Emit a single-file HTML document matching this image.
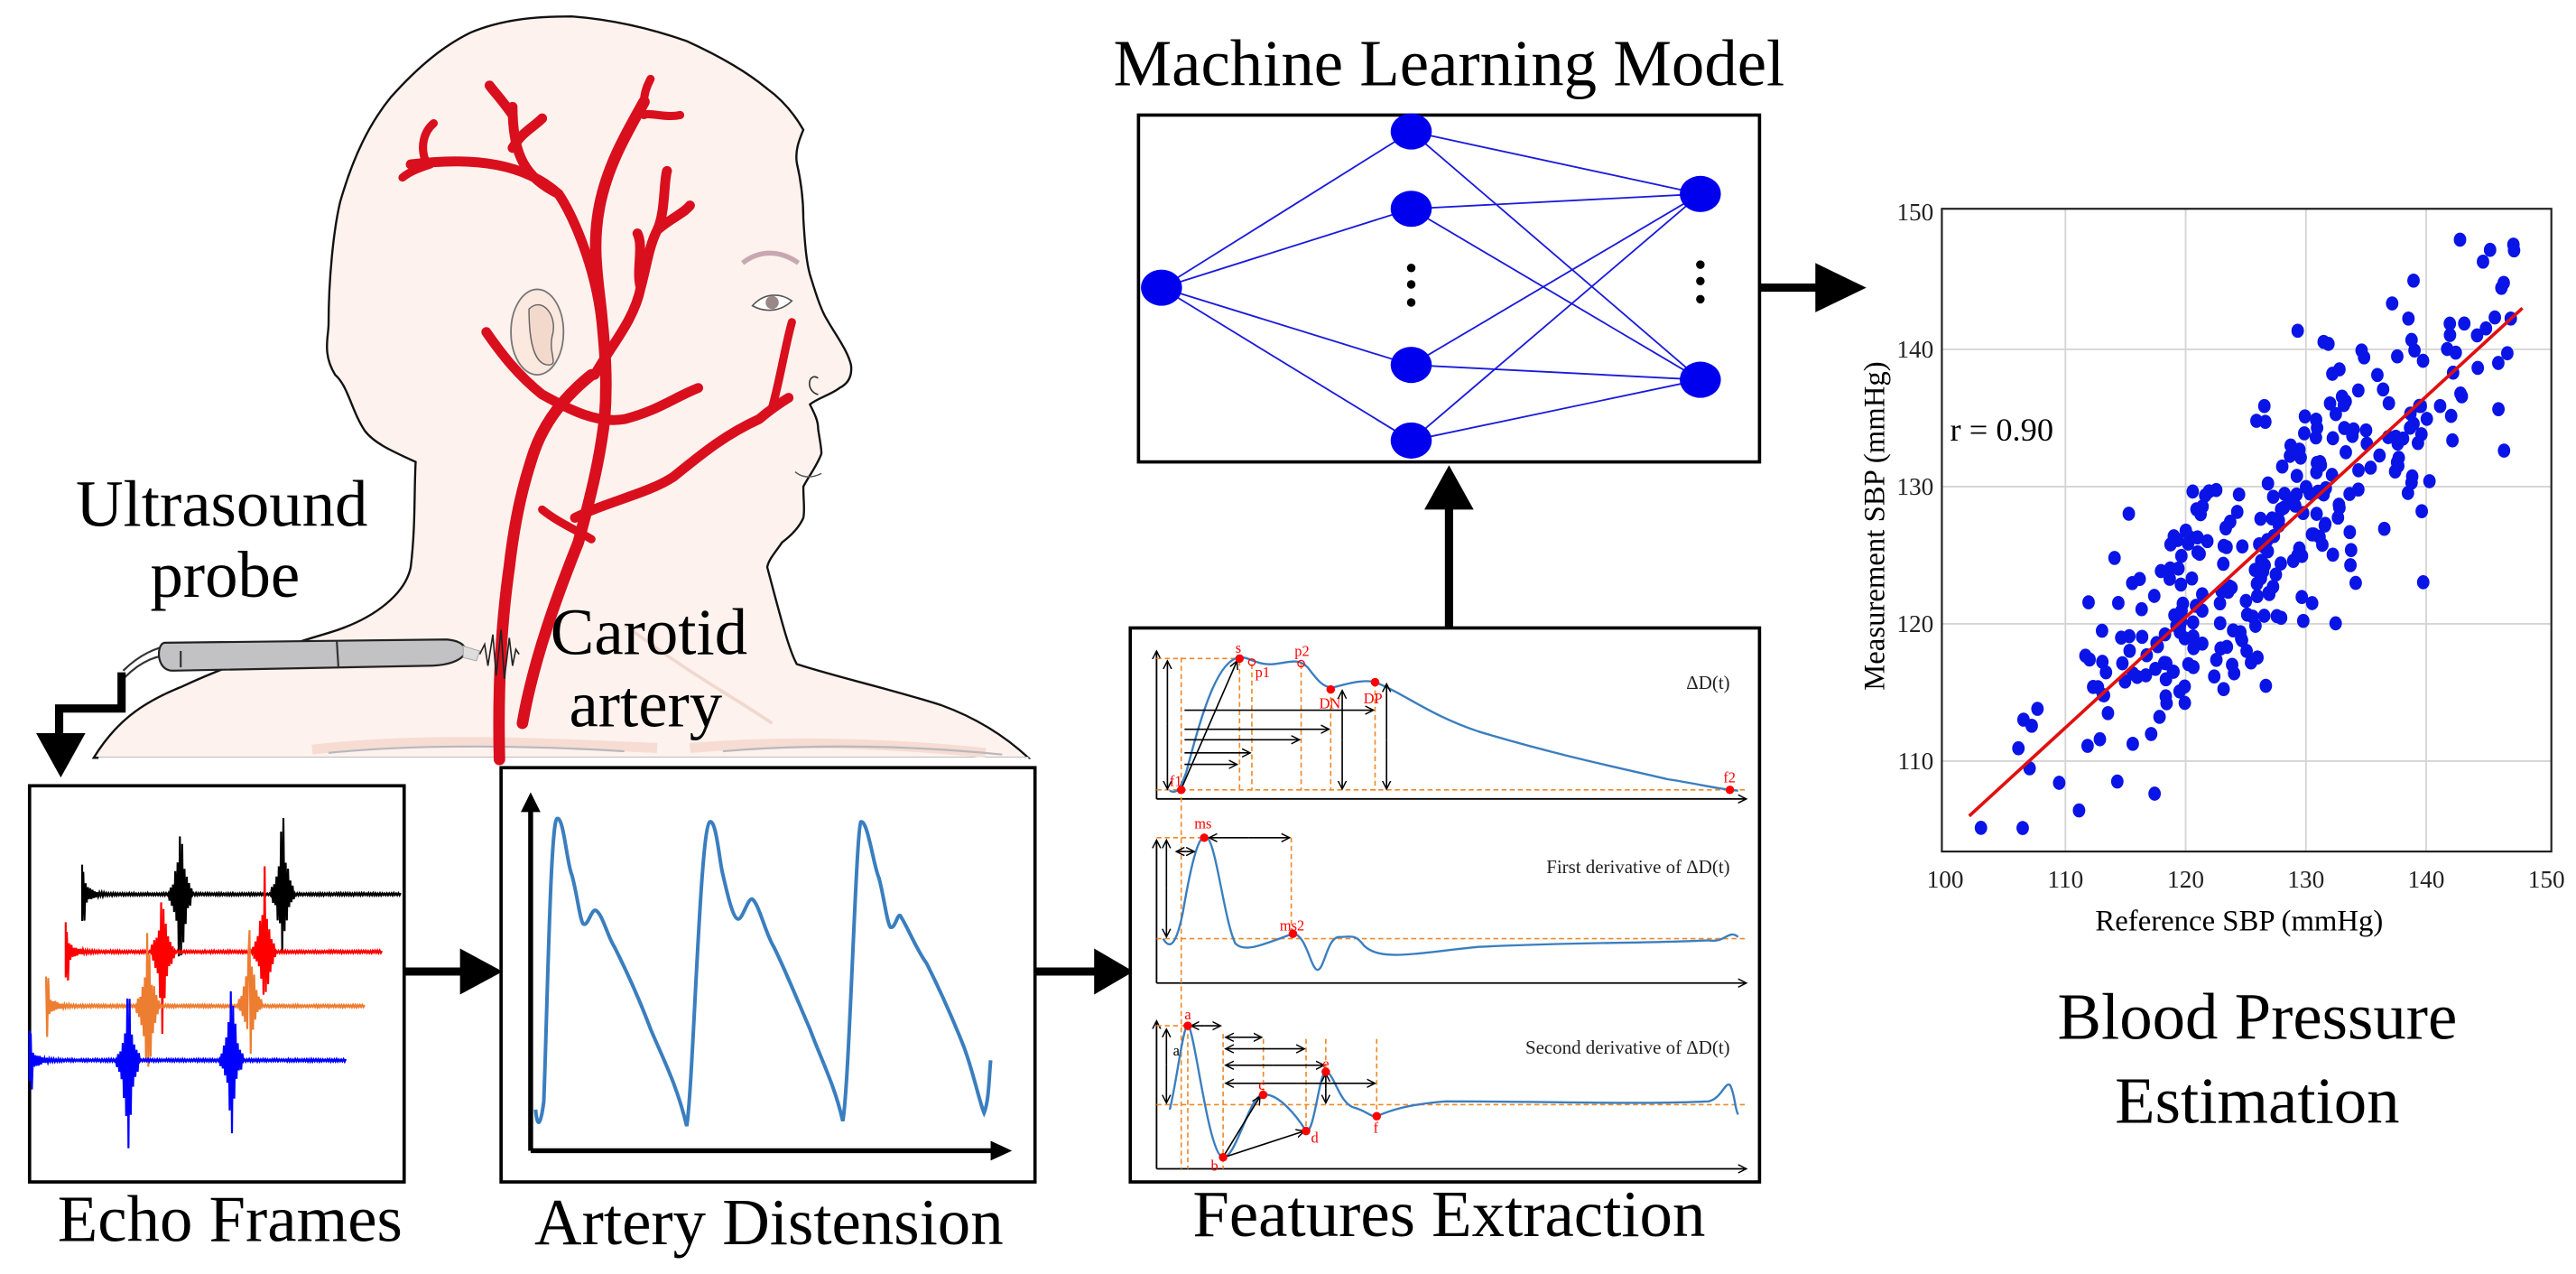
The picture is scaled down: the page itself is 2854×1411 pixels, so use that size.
<!DOCTYPE html>
<html><head><meta charset="utf-8"><style>
html,body{margin:0;padding:0;background:#fff;}
svg{display:block;}
text{font-family:"Liberation Serif",serif;}
</style></head><body>
<svg id="s" width="2854" height="1411" viewBox="0 0 1568 775" preserveAspectRatio="none" xmlns="http://www.w3.org/2000/svg">
<defs>
<marker id="ah" markerWidth="6" markerHeight="6" refX="5" refY="3" orient="auto" markerUnits="userSpaceOnUse"><path d="M0,0.5 L5,3 L0,5.5" fill="none" stroke="#000" stroke-width="0.8"/></marker>
</defs>
<rect width="1568" height="775" fill="#fff"/>

<!-- HEAD -->
<path d="M57,461 C70,440 85,428 110,418 C140,404 176,392 200,385 C230,376 247,360 250,345 C253,320 252,300 253,281 C240,275 228,270 222,262 C214,250 212,235 204,228 C196,215 200,205 200,197 C200,170 203,140 207,123 C215,95 225,75 238,59 C255,40 270,28 286,20 C305,12 325,10 348,10 C375,12 398,18 418,25 C440,35 455,44 467,54 C478,62 485,72 489,79 C486,86 484,92 485,99 C488,112 489,122 489,133 C490,150 491,160 493,167 C497,180 499,186 502,192 C508,203 516,213 518,222 C519,230 515,234 511,236 C506,240 498,242 493,246 C496,252 498,256 498,261 C499,268 500,272 500,276 C497,284 492,290 489,296 C489,305 490,310 489,315 C486,322 480,327 476,330 C472,336 468,340 467,345 C475,375 480,395 485,404 C510,412 545,420 573,429 C595,437 612,448 626,461 Z" fill="#fdf2ee" stroke="#111" stroke-width="1.3"/>
<path d="M60,462 L626,462" stroke="#fff" stroke-width="3"/>
<path d="M190,456 C260,448 330,452 400,455 M420,455 C480,450 540,452 600,458" stroke="#f6dcd2" stroke-width="6" fill="none"/>
<path d="M200,458 C260,452 330,454 380,457 M440,457 C500,452 560,454 610,459" stroke="#b8b8bc" stroke-width="1.2" fill="none"/>
<ellipse cx="327" cy="202" rx="16" ry="26" fill="#fbe8df" stroke="#777" stroke-width="1"/>
<path d="M322,188 C330,180 340,192 336,205 C334,215 340,222 334,222 C326,222 322,210 322,188 Z" fill="#f3d9cc" stroke="#666" stroke-width="0.8"/>
<path d="M458,186 C465,178 475,178 482,183 C475,190 465,190 458,186Z" fill="#fff" stroke="#555" stroke-width="0.9"/>
<circle cx="470" cy="184" r="4" fill="#9a8888"/>
<path d="M452,160 C462,152 475,152 486,160" stroke="#c8a8b0" stroke-width="3" fill="none"/>
<path d="M498,230 C492,226 490,238 498,240" stroke="#333" stroke-width="0.9" fill="none"/>
<path d="M484,287 C490,292 496,290 500,288" stroke="#555" stroke-width="0.8" fill="none"/>
<path d="M380,380 C420,410 440,420 470,440" stroke="#f0d8ce" stroke-width="2" fill="none"/>

<g fill="none" stroke="#d90f1e" stroke-linecap="round" stroke-linejoin="round">
<path d="M304,462 C303,420 305,380 310,345 C314,310 320,290 325,275 C332,255 345,240 360,228" stroke-width="7"/>
<path d="M318,440 C325,400 340,360 352,330 C360,300 365,280 368,255 C370,230 368,210 366,190 C364,170 360,150 365,125 C370,100 382,80 392,62" stroke-width="7"/>
<path d="M366,195 C362,160 348,130 340,118 C320,100 290,95 250,100" stroke-width="6"/>
<path d="M340,118 C320,108 312,95 312,65 M312,90 C318,80 324,78 330,72 M312,70 C305,60 300,55 298,52" stroke-width="6"/>
<path d="M260,100 C255,90 258,80 264,75 M262,100 C256,102 250,104 245,108" stroke-width="5"/>
<path d="M392,70 C395,68 405,72 414,70 M392,62 C392,55 395,50 396,48" stroke-width="5"/>
<path d="M362,228 C372,210 386,195 390,175 C394,160 395,150 400,140 C408,133 416,130 420,125 M400,140 C405,130 404,110 406,104 M390,175 C387,165 392,150 388,142" stroke-width="6"/>
<path d="M296,202 C305,215 315,228 330,240 C345,248 362,258 380,255 C400,250 410,242 425,236" stroke-width="6"/>
<path d="M350,315 C370,305 395,300 410,290 C425,278 440,265 462,255 C468,250 475,245 480,242" stroke-width="6"/>
<path d="M470,248 C475,230 478,210 482,196" stroke-width="5"/>
<path d="M330,310 C340,318 350,322 360,328" stroke-width="5"/>
</g>
<path d="M75,408 C85,398 95,394 105,392" stroke="#333" stroke-width="1.2" fill="none"/>
<path d="M76,412 C86,402 96,398 108,398" stroke="#333" stroke-width="1.2" fill="none"/>
<path d="M100,391 L272,389 C282,390 285,394 282,399 C278,403 270,405 260,405 L105,408 C95,408 95,392 100,391 Z" fill="#c2c2c4" stroke="#222" stroke-width="1.2"/>
<path d="M110,396 L110,406 M205,390 L206,406" stroke="#333" stroke-width="1.2"/>
<path d="M282,393 L292,396 L290,402 L282,400 Z" fill="#ddd" stroke="#aaa" stroke-width="0.6"/>
<path d="M292,398 L295,392 L297,405 L300,386 L302,411 L305,383 L307,413 L310,388 L312,405 L314,395 L316,398" stroke="#222" stroke-width="0.9" fill="none"/>
<path d="M74,409 L74,431 L36,431 L36,448" stroke="#000" stroke-width="5" fill="none"/>
<path d="M22,446 L52,446 L37,473 Z" fill="#000"/>

<text x="135" y="320" font-size="40" text-anchor="middle">Ultrasound</text>
<text x="137" y="363" font-size="40" text-anchor="middle">probe</text>
<text x="395" y="398" font-size="40" text-anchor="middle">Carotid</text>
<text x="393" y="442" font-size="40" text-anchor="middle">artery</text>

<rect x="18" y="478" width="228" height="241" fill="#fff" stroke="#000" stroke-width="2"/>
<g id="echo" fill="none" stroke-width="1.2"></g>
<text x="140" y="755" font-size="40" text-anchor="middle">Echo Frames</text>

<path d="M246,591 L282,591" stroke="#000" stroke-width="5"/>
<path d="M280,577 L306,591 L280,605 Z" fill="#000"/>

<rect x="305" y="467" width="325" height="252" fill="#fff" stroke="#000" stroke-width="2"/>
<path d="M323,700 L323,492" stroke="#000" stroke-width="3"/>
<path d="M317,494 L323,482 L329,494 Z" fill="#000"/>
<path d="M323,700 L605,700" stroke="#000" stroke-width="3"/>
<path d="M603,694 L616,700 L603,706 Z" fill="#000"/>
<path d="M326,675 C327,686 329,686 331,670 C333,620 335,500 339,498 C343,496 345,525 348,532 C351,542 353,560 355,562 C358,564 360,552 363,554 C367,557 370,570 374,576 C382,592 390,610 396,626 C404,645 412,660 418,685 C422,660 426,505 432,500 C436,498 438,525 440,532 C443,545 446,558 449,559 C452,560 455,546 458,547 C462,550 466,568 471,576 C478,590 486,610 493,626 C500,645 508,660 513,682 C517,660 521,505 524,500 C528,498 532,528 535,534 C538,545 540,562 542,564 C545,565 546,556 548,557 C553,565 558,578 564,586 C572,602 580,620 586,635 C592,650 596,670 599,677 C602,670 602,655 603,645" fill="none" stroke="#3a7ebf" stroke-width="2.2"/>
<text x="468" y="757" font-size="40" text-anchor="middle">Artery Distension</text>

<path d="M630,591 L668,591" stroke="#000" stroke-width="5"/>
<path d="M666,577 L690,591 L666,605 Z" fill="#000"/>

<rect x="688" y="382" width="383" height="337" fill="#fff" stroke="#000" stroke-width="2"/>
<g stroke="#000" stroke-width="1" fill="none">
<path d="M704,486 L704,396" marker-end="url(#ah)"/>
<path d="M704,486 L1063,486" marker-end="url(#ah)"/>
<path d="M704,598 L704,511" marker-end="url(#ah)"/>
<path d="M704,598 L1063,598" marker-end="url(#ah)"/>
<path d="M704,711 L704,621" marker-end="url(#ah)"/>
<path d="M704,711 L1063,711" marker-end="url(#ah)"/>
</g>
<g stroke="#f08a28" stroke-width="0.9" stroke-dasharray="3,2" fill="none">
<path d="M704,400.6 L755,400.6 M704,480.5 L1063,480.5 M719,400 L719,711 M754.5,402 L754.5,481 M762,404 L762,481 M792,404 L792,481 M810,419 L810,481 M837,415 L837,481"/>
<path d="M704,509.6 L733,509.6 M786,509.6 L786,571 M704,571 L1063,571"/>
<path d="M704,624 L723,624 M723,624 L723,711 M744.5,629 L744.5,711 M769,632 L769,666 M795,632 L795,688 M807,632 L807,660 M838,632 L838,679 M704,672 L1063,672"/>
</g>
<g fill="none" stroke="#3a7ebf" stroke-width="1.3">
<path d="M712,481 C716,483 718,481 722,470 C730,440 740,402 754,400 C760,399 765,405 775,404 C785,403 790,400 796,406 C802,414 806,419 812,418 C820,416 830,413 837,415 C855,422 870,435 900,445 C950,460 990,468 1015,474 C1035,477 1045,480 1058,481"/>
<path d="M708,571 C712,578 716,575 720,555 C726,520 730,508 734,509 C740,510 745,560 752,574 C758,580 770,574 787,568 C795,568 798,590 802,590 C806,590 808,570 815,570 C822,570 825,568 830,575 C840,585 860,580 900,576 C960,573 1000,574 1040,572 C1050,574 1052,565 1058,570"/>
<path d="M712,675 C716,660 720,624 723,624 C727,624 735,700 744,704 C752,706 760,668 768,666 C778,664 790,680 795,688 C800,690 803,652 807,652 C812,652 815,672 825,674 C832,676 835,680 838,679 C845,676 855,672 880,670 C950,670 1000,672 1040,670 C1048,668 1050,658 1053,660 C1056,665 1056,675 1058,678"/>
</g>
<g stroke="#000" stroke-width="0.9" fill="none" marker-end="url(#ah)">
<path d="M721,432 L836,432"/><path d="M721,443.6 L809,443.6"/><path d="M721,450 L791,450"/><path d="M721,458 L761,458"/><path d="M721,465 L753,465"/>
<path d="M710.6,440 L710.6,402"/><path d="M710.6,440 L710.6,480"/>
<path d="M817,450 L817,420"/><path d="M817,450 L817,480"/>
<path d="M844,450 L844,416"/><path d="M844,450 L844,480"/>
<path d="M719,480 L753,402"/>
<path d="M760,509.6 L785,509.6"/><path d="M760,509.6 L736,509.6"/>
<path d="M722,518 L727,518"/><path d="M722,518 L716,518"/>
<path d="M710,540 L710,511"/><path d="M710,540 L710,570"/>
<path d="M733,624 L743,624"/><path d="M733,624 L725,624"/>
<path d="M756,631 L768,631"/><path d="M756,631 L746,631"/>
<path d="M770,638 L794,638"/><path d="M770,638 L746,638"/>
<path d="M775,648 L806,648"/><path d="M775,648 L746,648"/>
<path d="M790,659 L837,659"/><path d="M790,659 L746,659"/>
<path d="M710,648 L710,626"/><path d="M710,648 L710,671"/>
<path d="M807,662 L807,653"/><path d="M807,662 L807,671"/>
<path d="M745,703 L767,667"/><path d="M745,704 L794,688"/>
</g>
<g fill="#f00">
<circle cx="719" cy="480.5" r="2.6"/><circle cx="754.5" cy="400.6" r="2.6"/><circle cx="810" cy="419.4" r="2.6"/><circle cx="837" cy="415" r="2.6"/><circle cx="1053" cy="480.5" r="2.6"/>
<circle cx="733" cy="509.6" r="2.6"/><circle cx="787" cy="568" r="2.6"/>
<circle cx="723" cy="624" r="2.6"/><circle cx="744.5" cy="704" r="2.6"/><circle cx="768.9" cy="666" r="2.6"/><circle cx="795" cy="688" r="2.6"/><circle cx="807" cy="652" r="2.6"/><circle cx="838" cy="679" r="2.6"/>
</g>
<circle cx="762" cy="402.8" r="2" fill="none" stroke="#f00" stroke-width="0.7"/>
<circle cx="792" cy="403.7" r="2" fill="none" stroke="#f00" stroke-width="0.7"/>
<g fill="#f00" font-size="9">
<text x="752" y="397">s</text><text x="764" y="412">p1</text><text x="788" y="399">p2</text><text x="803" y="431">DN</text><text x="830" y="428">DP</text><text x="712" y="478">f1</text><text x="1049" y="476">f2</text>
<text x="727" y="504">ms</text><text x="779" y="566">ms2</text>
<text x="721" y="620">a</text><text x="737" y="712">b</text><text x="766" y="663">c</text><text x="798" y="695">d</text><text x="805" y="650">e</text><text x="836" y="689">f</text>
</g>
<text x="714" y="642" font-size="9">a</text>
<g font-size="11.5" text-anchor="end" fill="#222">
<text x="1053" y="419">ΔD(t)</text>
<text x="1053" y="531">First derivative of ΔD(t)</text>
<text x="1053" y="641">Second derivative of ΔD(t)</text>
</g>
<text x="882" y="752" font-size="40" text-anchor="middle">Features Extraction</text>

<path d="M882,382 L882,306" stroke="#000" stroke-width="5"/>
<path d="M867,310 L882,283 L897,310 Z" fill="#000"/>

<text x="882" y="52" font-size="40" text-anchor="middle">Machine Learning Model</text>
<rect x="693" y="70" width="378" height="211" fill="#fff" stroke="#000" stroke-width="2"/>
<g stroke="#1a1adc" stroke-width="1">
<path d="M707,175 L859,80 M707,175 L859,127 M707,175 L859,222 M707,175 L859,268"/>
<path d="M859,80 L1035,118 M859,80 L1035,231 M859,127 L1035,118 M859,127 L1035,231 M859,222 L1035,118 M859,222 L1035,231 M859,268 L1035,118 M859,268 L1035,231"/>
</g>
<g fill="#0000ee">
<ellipse cx="707" cy="175" rx="12.5" ry="11"/>
<ellipse cx="859" cy="80" rx="12.5" ry="11"/><ellipse cx="859" cy="127" rx="12.5" ry="11"/><ellipse cx="859" cy="222" rx="12.5" ry="11"/><ellipse cx="859" cy="268" rx="12.5" ry="11"/>
<ellipse cx="1035" cy="118" rx="12.5" ry="11"/><ellipse cx="1035" cy="231" rx="12.5" ry="11"/>
</g>
<g fill="#000">
<circle cx="859" cy="163" r="2.6"/><circle cx="859" cy="173" r="2.6"/><circle cx="859" cy="184" r="2.6"/>
<circle cx="1035" cy="161" r="2.6"/><circle cx="1035" cy="171" r="2.6"/><circle cx="1035" cy="182" r="2.6"/>
</g>
<path d="M1071,175 L1108,175" stroke="#000" stroke-width="5"/>
<path d="M1105,160 L1136,175 L1105,190 Z" fill="#000"/>

<g id="grid" stroke="#d4d4d4" stroke-width="1"></g>
<rect x="1182" y="127" width="371" height="391" fill="none" stroke="#222" stroke-width="1.2"/>
<g id="ticks" font-size="15" fill="#222"></g>
<g id="pts" fill="#0a14e6"></g>
<path id="rl" stroke="#e01010" stroke-width="2" fill="none"/>
<text x="1187" y="268" font-size="20">r = 0.90</text>
<text x="1363" y="566" font-size="18" text-anchor="middle">Reference SBP (mmHg)</text>
<text transform="translate(1147,320) rotate(-90)" font-size="18" text-anchor="middle">Measurement SBP (mmHg)</text>
<text x="1374" y="632" font-size="40" text-anchor="middle">Blood Pressure</text>
<text x="1374" y="683" font-size="40" text-anchor="middle">Estimation</text>
</svg>
<script>
(function(){
var NS="http://www.w3.org/2000/svg";
function el(p,t,a,txt){var e=document.createElementNS(NS,t);for(var k in a)e.setAttribute(k,a[k]);if(txt)e.textContent=txt;document.getElementById(p).appendChild(e);return e;}
var seed=12345;function r(){seed=(seed*1103515245+12345)%2147483648;return seed/2147483648;}
function g(){return (r()+r()+r()+r()-2)*1.73;}
var rows=[[50,244,544,"#000",[110,172],[493,488],[606,596]],[40,233,579,"#f00",[99,161],[527,522],[640,630]],[28,222,612,"#ed7d31",[90,152],[559,557],[675,650]],[18,211,645,"#00f",[78,141],[591,586],[709,697]]];
rows.forEach(function(R){
 var d="M"+R[0]+","+(R[2]-18);
 for(var x=R[0];x<=R[1];x+=0.7){
  var y=R[2];var a=0;
  var e=Math.exp(-(x-R[0])/4);a+=(x-R[0]<2?18:10*e);
  for(var i=0;i<2;i++){var dx=x-R[4][i];if(Math.abs(dx)<7){a+=(R[6][i]-R[5][i])/2*Math.exp(-Math.abs(dx)/2.5);}}
  a+=0.8;
  var s=(Math.floor(x/0.7)%2?1:-1);
  var off=0;for(var i=0;i<2;i++){var dx=x-R[4][i];if(Math.abs(dx)<7)off=((R[6][i]+R[5][i])/2-R[2])*Math.exp(-Math.abs(dx)/2.5);}
  d+=" L"+x.toFixed(1)+","+(y+off+s*a*(0.6+0.4*r())).toFixed(1);
 }
 el("echo","path",{d:d,stroke:R[3]});
});
function X(v){return 1184+(v-100)*7.32;}function Y(v){return 129+(150-v)*8.35;}
for(var v=110;v<=140;v+=10){el("grid","line",{x1:X(v),x2:X(v),y1:127,y2:518});}
for(var v=110;v<=140;v+=10){el("grid","line",{x1:1182,x2:1553,y1:Y(v),y2:Y(v)});}
for(var v=100;v<=150;v+=10){el("ticks","text",{x:X(v),y:540,"text-anchor":"middle"},String(v));}
for(var v=110;v<=150;v+=10){el("ticks","text",{x:1177,y:Y(v)+5,"text-anchor":"end"},String(v));}
for(var i=0;i<300;i++){
 var x=127+g()*9.5; if(x<102)x=102+r()*4; if(x>148)x=144+r()*4;
 var y=0.804*x+24+g()*4.6;
 if(y>148)y=147+r(); if(y<105)y=105+r();
 el("pts","ellipse",{cx:X(x).toFixed(1),cy:Y(y).toFixed(1),rx:3.8,ry:4.3});
}
document.getElementById("rl").setAttribute("d","M"+X(102)+","+Y(106)+" L"+X(148)+","+Y(143));
})();
</script>
</body></html>
